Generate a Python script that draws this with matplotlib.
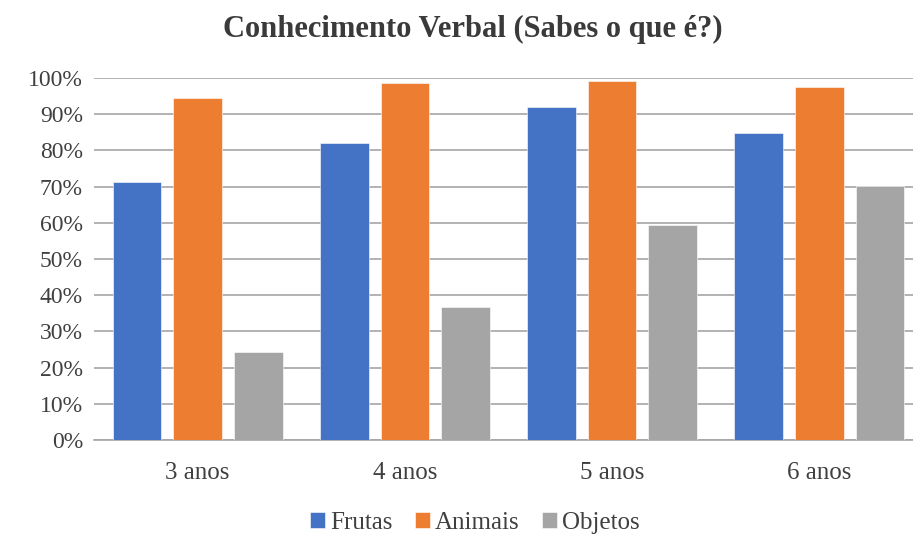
import matplotlib.pyplot as plt
import numpy as np

plt.rcParams['font.family'] = ['Liberation Serif', 'DejaVu Serif']

# dados
categorias = ['3 anos', '4 anos', '5 anos', '6 anos']
frutas = [0.714, 0.820, 0.919, 0.847]
animais = [0.945, 0.986, 0.993, 0.976]
objetos = [0.242, 0.367, 0.593, 0.702]

series = [('Frutas', frutas, '#4472C4'),
          ('Animais', animais, '#ED7D31'),
          ('Objetos', objetos, '#A5A5A5')]

fig = plt.figure(figsize=(9.13, 5.35), dpi=100)
ax = fig.add_axes([94 / 913, 1 - 440 / 535, 829 / 913, 362 / 535])

x = np.arange(len(categorias))
w = 0.235
step = 0.293
for i, (nome, vals, cor) in enumerate(series):
    ax.bar(x + (i - 1) * step, vals, width=w, color=cor, label=nome,
           edgecolor='white', linewidth=0.4, zorder=3)

ax.set_xlim(-0.5, 3.5)
ax.set_ylim(0, 1)
ax.set_yticks(np.arange(0, 1.01, 0.1))
ax.set_yticklabels([f'{int(round(v * 100))}%' for v in np.arange(0, 1.01, 0.1)])
ax.set_xticks(x)
ax.set_xticklabels(categorias)
ax.grid(axis='y', color='#a6a6a6', linewidth=1.2, zorder=0)
ax.tick_params(axis='both', length=0, colors='#404040')
ax.tick_params(axis='x', pad=16, labelsize=18)
ax.tick_params(axis='y', pad=8, labelsize=17)
for s in ['top', 'right', 'left']:
    ax.spines[s].set_visible(False)
ax.spines['bottom'].set_color('#a6a6a6')
ax.spines['bottom'].set_linewidth(1.2)

fig.text(0.5175, 0.944, 'Conhecimento Verbal (Sabes o que é?)', ha='center', va='center',
         fontsize=22, fontweight='bold', color='#3a3a3a')

fig.legend(loc='center', bbox_to_anchor=(0.52, 1 - 523 / 535), ncol=3, frameon=False,
           fontsize=18, handlelength=0.6, handleheight=0.6, handletextpad=0.2,
           columnspacing=0.9, labelcolor='#404040', borderpad=0)

fig.savefig('out.png', dpi=100)
